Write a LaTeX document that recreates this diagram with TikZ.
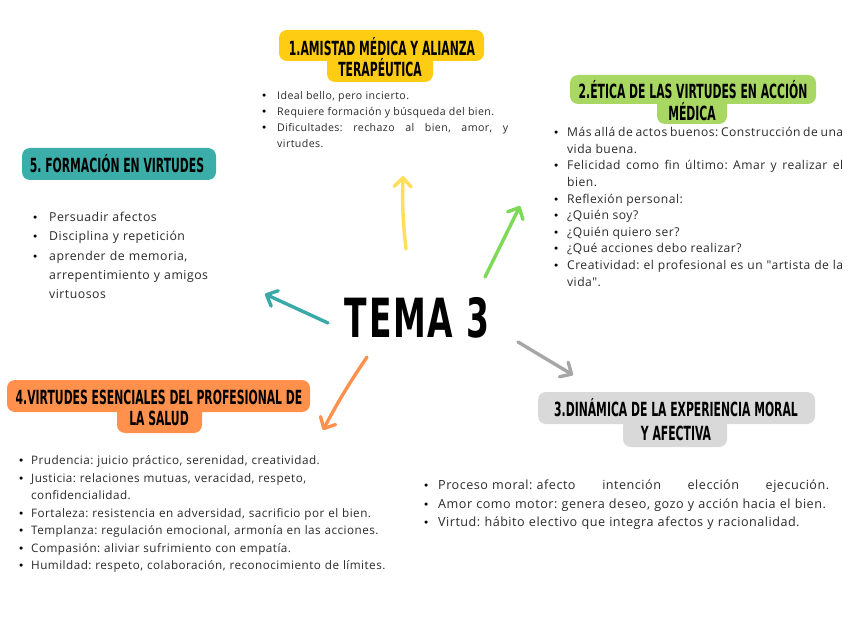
\documentclass[tikz,border=0pt]{standalone}
\usepackage{fontspec}
\setmainfont{Open Sans}[LetterSpace=4,Ligatures=TeXOff]
\newfontfamily\hfont{DejaVu Sans}[FakeStretch=0.555]
\newfontfamily\tfont{DejaVu Sans}[FakeStretch=0.61,LetterSpace=3]
\newfontfamily\bfont{DejaVu Sans}
\usetikzlibrary{arrows.meta}
\definecolor{byel}{HTML}{FFCC14}
\definecolor{bgrn}{HTML}{A8D863}
\definecolor{btea}{HTML}{3BAEAA}
\definecolor{bora}{HTML}{FF914D}
\definecolor{bgry}{HTML}{D9D9D9}
\definecolor{ayel}{HTML}{FFDE59}
\definecolor{agrn}{HTML}{7ED957}
\definecolor{atea}{HTML}{3AAAA8}
\definecolor{aora}{HTML}{FF914D}
\definecolor{agry}{HTML}{A6A6A6}
\definecolor{txt}{HTML}{2A2A2A}
\hyphenpenalty=10000
\exhyphenpenalty=10000
\frenchspacing
\newlength\bi
\newcommand{\bit}[1]{\par\noindent\hangindent=\bi\hangafter=1\makebox[\bi][l]{{\bfont\fontsize{10.5}{9}\selectfont\color{black}•}}#1\par}
\tikzset{
  hbox/.style={rounded corners=8pt},
  htext/.style={font=\hfont\bfseries\fontsize{19.5}{22}\selectfont, inner sep=0, text=black},
  list/.style={anchor=north west, inner sep=0, text=txt},
  arr/.style={line width=3.4pt, line cap=round, -{Straight Barb[length=9pt,width=17pt,round]}}
}
\begin{document}
\begin{tikzpicture}[x=1pt,y=-1pt]
\useasboundingbox[fill=white] (0,0) rectangle (848,636);

% ---- header boxes
\fill[byel,hbox] (279,30) rectangle (484,61);
\fill[byel,hbox] (327,52) rectangle (433,82);
\node[htext] (h1a) at (382,47) {1.AMISTAD MÉDICA Y ALIANZA};
\node[htext] (h1b) at (380,68) {TERAPÉUTICA};

\fill[bgrn,hbox] (570,75) rectangle (816,104);
\fill[bgrn,hbox] (657,97) rectangle (727,124);
\node[htext] (h2a) at (693,90) {2.ÉTICA DE LAS VIRTUDES EN ACCIÓN};
\node[htext] (h2b) at (692,112) {MÉDICA};

\fill[btea,hbox] (22,148) rectangle (216,180);
\node[htext] (h5) at (117,164) {5. FORMACIÓN EN VIRTUDES};

\fill[bora,hbox] (7,380) rectangle (310,412);
\fill[bora,hbox] (117,404) rectangle (202,433);
\node[htext] (h4a) at (159,397) {4.VIRTUDES ESENCIALES DEL PROFESIONAL DE};
\node[htext] (h4b) at (159,418) {LA SALUD};

\fill[bgry,hbox] (538,392) rectangle (815,424);
\fill[bgry,hbox] (623,418) rectangle (727,447);
\node[htext] (h3a) at (676,408) {3.DINÁMICA DE LA EXPERIENCIA MORAL};
\node[htext] (h3b) at (676,433) {Y AFECTIVA};

% ---- central title
\node[inner sep=0, font=\tfont\bfseries\fontsize{54}{60}\selectfont] (c) at (417,318) {TEMA 3};

% ---- lists
\node[list, text width=247pt, align=justify, font=\fontsize{10.6}{16}\selectfont] (l1) at (261,83) {%
\setlength\bi{16pt}%
\bit{Ideal bello, pero incierto.}
\bit{Requiere formación y búsqueda del bien.}
\bit{Dificultades: rechazo al bien, amor, y virtudes.}};

\node[list, text width=290pt, align=justify, font=\fontsize{12.1}{16.6}\selectfont] (l2) at (553,120) {%
\setlength\bi{14pt}%
\bit{Más allá de actos buenos: Construcción de una vida buena.}
\bit{Felicidad como fin último: Amar y realizar el bien.}
\bit{Reflexión personal:}
\bit{¿Quién soy?}
\bit{¿Quién quiero ser?}
\bit{¿Qué acciones debo realizar?}
\bit{Creatividad: el profesional es un "artista de la vida".}};

\node[list, text width=185pt, align=left, font=\fontsize{12.3}{19.3}\selectfont] (l5) at (32,202) {%
\setlength\bi{17pt}%
\bit{Persuadir afectos}
\bit{Disciplina y repetición}
\bit{aprender de memoria, arrepentimiento y amigos virtuosos}};

\node[list, text width=372pt, align=left, font=\fontsize{11.7}{17.5}\selectfont] (l4) at (18,447) {%
\setlength\bi{13pt}%
\bit{Prudencia: juicio práctico, serenidad, creatividad.}
\bit{Justicia: relaciones mutuas, veracidad, respeto, confidencialidad.}
\bit{Fortaleza: resistencia en adversidad, sacrificio por el bien.}
\bit{Templanza: regulación emocional, armonía en las acciones.}
\bit{Compasión: aliviar sufrimiento con empatía.}
\bit{Humildad: respeto, colaboración, reconocimiento de límites.}};

\node[list, text width=410pt, align=left, font=\fontsize{12.6}{18.5}\selectfont] (l3) at (423,471) {%
\setlength\bi{15pt}%
\bit{\hbox to 391pt{Proceso moral: afecto\hfill intención\hfill elección\hfill ejecución.}}
\bit{Amor como motor: genera deseo, gozo y acción hacia el bien.}
\bit{Virtud: hábito electivo que integra afectos y racionalidad.}};

% ---- arrows
\coordinate (y0) at (406,249); \coordinate (y1) at (403,176);
\coordinate (g0) at (485,277); \coordinate (g1) at (520,206);
\coordinate (t0) at (328,323); \coordinate (t1) at (265,294);
\coordinate (r0) at (518,342); \coordinate (r1) at (573,375);
\coordinate (o0) at (367,357); \coordinate (o1) at (323,430);
\draw[arr, ayel] (y0) to[bend left=4] (y1);
\draw[arr, agrn] (g0) -- (g1);
\draw[arr, atea] (t0) -- (t1);
\draw[arr, agry] (r0) -- (r1);
\draw[arr, aora] (o0) to[bend right=3] (o1);
\end{tikzpicture}
\end{document}
